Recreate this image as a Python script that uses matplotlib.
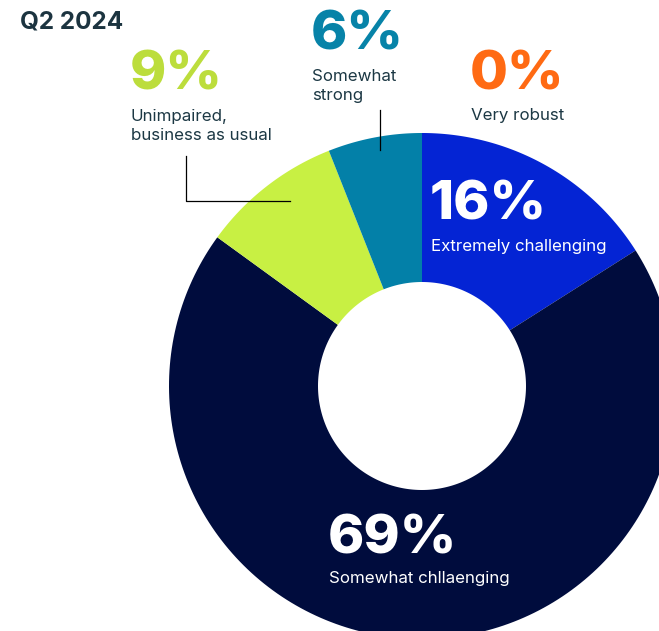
import numpy as np
import matplotlib.pyplot as plt

### data
title = "Q2 2024"
categories = ["Extremely challenging", "Somewhat chllaenging", "Unimpaired,\nbusiness as usual",
              "Somewhat\nstrong", "Very robust"]
shares = [16, 69, 9, 6, 0]
colors = ["#0424d4", "#000c3d", "#c8f043", "#0380a8", "#ff6a13"]
num_colors = ["white", "white", "#bcdd3c", "#0783a8", "#ff6a13"]
txt_colors = ["white", "white", "#1c3844", "#1c3844", "#1c3844"]

# label anchors in pixel coords (x, top of number, gap to caption)
anchors = [(430, 181, 58), (328, 515, 56), (130, 51, 58), (311, 11, 58), (470, 50, 58)]

W, H = 659, 631
fig = plt.figure(figsize=(W/100, H/100), dpi=100)
ax = fig.add_axes([0, 0, 1, 1])
ax.set_xlim(0, W)
ax.set_ylim(H, 0)
ax.set_aspect('equal')
ax.axis('off')

# donut drawn with y pointing down, so angles go clockwise from the top
cx, cy, R, r = 422, 386, 253, 104
start = -90.0
for v, c in zip(shares, colors):
	if v == 0:
		continue
	t = np.linspace(np.radians(start), np.radians(start + 360*v/100), 200)
	xs = np.concatenate([cx + R*np.cos(t), cx + r*np.cos(t[::-1])])
	ys = np.concatenate([cy + R*np.sin(t), cy + r*np.sin(t[::-1])])
	ax.fill(xs, ys, color=c, lw=0)
	start += 360*v/100

ax.text(20, 10, title, fontsize=17.5, fontweight='bold', color="#1c3440", va='top', family='Inter')

for v, lab, nc, tc, (x, y, gap) in zip(shares, categories, num_colors, txt_colors, anchors):
	ax.text(x, y, f"{v}%", fontsize=39.5, fontweight='heavy', color=nc, va='top', ha='left', family='Inter')
	ax.text(x + 1, y + gap, lab, fontsize=12.2, color=tc, va='top', ha='left', family='Inter', linespacing=1.3)

# leader lines
ax.plot([186, 186, 290], [156, 201, 201], color='black', lw=0.9)
ax.plot([380, 380], [110, 150], color='black', lw=0.9)

fig.savefig("out.png", dpi=100)
